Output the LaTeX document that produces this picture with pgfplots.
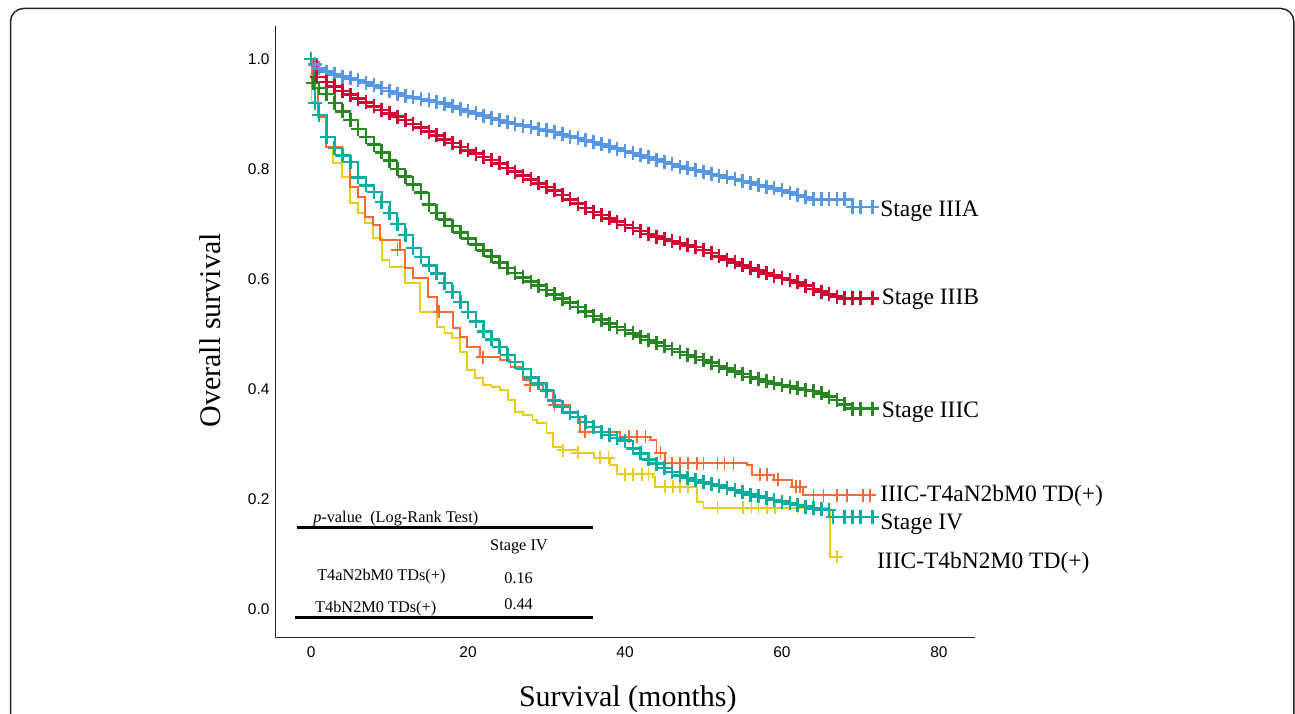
\documentclass[border=0pt]{standalone}
\usepackage{fontspec}
\setmainfont{Liberation Serif}
\newfontfamily\arialfont{Liberation Sans}
\usepackage{pgfplots}
\pgfplotsset{compat=1.18}

\definecolor{cIIIA}{RGB}{88,150,230}
\definecolor{cIIIB}{RGB}{212,0,50}
\definecolor{cIIIC}{RGB}{40,135,35}
\definecolor{cIV}{RGB}{0,175,160}
\definecolor{cT4a}{RGB}{250,105,50}
\definecolor{cT4b}{RGB}{230,205,20}

\begin{document}
\begin{tikzpicture}
\path[use as bounding box] (0pt,0pt) rectangle (1295pt,-714pt);
\draw[line width=1.5pt, black!85, rounded corners=13pt] (10.5pt,-8.5pt) rectangle (1293.8pt,-800pt);
\begin{axis}[
    at={(275pt,-637pt)}, anchor=south west,
    scale only axis, width=700pt, height=611pt,
    xmin=-4.6, xmax=84.6, ymin=-0.051, ymax=1.06,
    axis x line=bottom, axis y line=left,
    axis line style={-, line width=1pt, black!85},
    major tick length=0pt,
    xtick={0,20,40,60,80},
    ytick={0,0.2,0.4,0.6,0.8,1.0},
    yticklabel style={/pgf/number format/fixed, /pgf/number format/fixed zerofill,
        /pgf/number format/precision=1, xshift=-2pt},
    xticklabel style={yshift=-6pt},
    ticklabel style={font=\arialfont\fontsize{15.5}{18}\selectfont},
    /pgf/number format/assume math mode=true,
    xlabel={Survival (months)},
    ylabel={Overall survival},
    label style={font=\fontsize{30}{36}\selectfont},
    xlabel style={at={(axis description cs:0.504,-0.113)}, anchor=base},
    ylabel style={at={(axis description cs:-0.093,0.502)}, anchor=center},
    clip=false,
    every axis plot/.append style={const plot, line width=2pt},
    km/.style={mark=+, mark size=7pt, mark options={line width=2.6pt, solid}},
]

% Stage IIIA
\addplot[cIIIA, km] coordinates {
(0,1.0)(0.5,0.99)(1,0.983)(2,0.977)(3,0.972)(4,0.968)(5,0.965)(6,0.962)(7,0.957)(8,0.952)
(9,0.947)(10,0.942)(11,0.937)(12,0.933)(13,0.930)(14,0.927)(15,0.925)(16,0.922)(17,0.919)
(18,0.914)(19,0.909)(20,0.905)(21,0.901)(22,0.897)(23,0.893)(24,0.889)(25,0.885)(26,0.882)
(27,0.879)(28,0.876)(29,0.873)(30,0.870)(31,0.867)(32,0.863)(33,0.859)(34,0.856)(35,0.852)
(36,0.849)(37,0.845)(38,0.841)(39,0.837)(40,0.833)(41,0.829)(42,0.825)(43,0.821)(44,0.817)
(45,0.813)(46,0.809)(47,0.804)(48,0.801)(49,0.798)(50,0.795)(51,0.791)(52,0.788)(53,0.785)
(54,0.782)(55,0.778)(56,0.775)(57,0.771)(58,0.768)(59,0.765)(60,0.761)(61,0.757)(62,0.753)
(63,0.749)(64,0.745)(65,0.745)(66,0.745)(67,0.745)(68,0.745)(69,0.731)(70,0.731)(71.5,0.731)};

% Stage IIIB
\addplot[cIIIB, km] coordinates {
(0,1.0)(0.7,0.967)(2,0.958)(3,0.950)(4,0.942)(5,0.935)(6,0.928)(7,0.921)(8,0.914)(9,0.907)
(10,0.901)(11,0.895)(12,0.889)(13,0.882)(14,0.875)(15,0.868)(16,0.861)(17,0.854)(18,0.847)
(19,0.840)(20,0.834)(21,0.828)(22,0.822)(23,0.816)(24,0.810)(25,0.802)(26,0.795)(27,0.788)
(28,0.781)(29,0.774)(30,0.767)(31,0.761)(32,0.753)(33,0.745)(34,0.737)(35,0.729)(36,0.722)
(37,0.716)(38,0.710)(39,0.704)(40,0.698)(41,0.693)(42,0.687)(43,0.682)(44,0.677)(45,0.673)
(46,0.669)(47,0.665)(48,0.661)(49,0.658)(50,0.653)(51,0.647)(52,0.641)(53,0.635)(54,0.630)
(55,0.625)(56,0.620)(57,0.615)(58,0.610)(59,0.606)(60,0.602)(61,0.598)(62,0.594)(63,0.588)
(64,0.582)(65,0.577)(66,0.572)(67,0.568)(68,0.565)(69,0.565)(70,0.565)(71.5,0.565)};

% Stage IIIC
\addplot[cIIIC, km] coordinates {
(0,1.0)(0.3,0.956)(1,0.947)(2,0.936)(3,0.920)(4,0.905)(5,0.889)(6,0.873)(7,0.858)(8,0.844)
(9,0.830)(10,0.815)(11,0.800)(12,0.786)(13,0.772)(14,0.757)(15,0.735)(16,0.720)(17,0.708)
(18,0.696)(19,0.685)(20,0.674)(21,0.663)(22,0.652)(23,0.641)(24,0.630)(25,0.620)(26,0.611)
(27,0.603)(28,0.595)(29,0.588)(30,0.580)(31,0.572)(32,0.564)(33,0.557)(34,0.549)(35,0.541)
(36,0.533)(37,0.526)(38,0.519)(39,0.513)(40,0.507)(41,0.501)(42,0.495)(43,0.489)(44,0.484)
(45,0.478)(46,0.473)(47,0.467)(48,0.462)(49,0.458)(50,0.453)(51,0.448)(52,0.442)(53,0.437)
(54,0.432)(55,0.427)(56,0.422)(57,0.418)(58,0.414)(59,0.410)(60,0.407)(61,0.404)(62,0.401)
(63,0.398)(64,0.396)(65,0.392)(66,0.386)(67,0.380)(68,0.372)(69,0.364)(70,0.364)(71.5,0.364)};

% IIIC-T4bN2M0 TD(+)
\addplot[cT4b, line width=1.8pt] coordinates {
(0,1.0)(0.05,0.922)(0.9,0.898)(1.9,0.84)(2.8,0.811)(3.9,0.785)(5,0.738)(6,0.72)(6.9,0.702)
(7.9,0.675)(9,0.635)(10,0.622)(12,0.593)(13.9,0.54)(16,0.513)(17,0.502)(18,0.493)(19,0.467)
(19.9,0.435)(20.9,0.42)(21.9,0.407)(23,0.404)(24.1,0.398)(25.1,0.38)(26,0.358)(27,0.353)
(28.2,0.344)(28.8,0.338)(30,0.32)(30.8,0.295)(32.1,0.289)(34,0.284)(36,0.275)(38.1,0.262)
(39,0.245)(43.6,0.24)(43.8,0.222)(49.2,0.195)(50,0.184)(66.1,0.095)(67.2,0.095)};
\addplot[cT4b, only marks, mark=+, mark size=6.5pt, mark options={line width=1.6pt}] coordinates {
(32.1,0.289)(34,0.284)(36.8,0.275)(37.9,0.275)(40,0.245)(41,0.245)(42.2,0.245)(43,0.245)
(45.1,0.222)(46.1,0.222)(47,0.222)(48,0.222)(51.8,0.184)(55,0.184)(56.1,0.184)(57,0.184)
(58.1,0.184)(59.1,0.184)(62,0.184)(67,0.095)};

% IIIC-T4aN2bM0 TD(+)
\addplot[cT4a, line width=1.8pt] coordinates {
(0,1.0)(0.1,0.947)(0.9,0.895)(1.9,0.84)(3.9,0.825)(5,0.767)(6,0.749)(6.9,0.713)(7.9,0.698)
(8.8,0.671)(11.3,0.653)(12,0.62)(13,0.602)(14.9,0.567)(16,0.54)(18.1,0.511)(19,0.495)
(19.9,0.476)(21.5,0.458)(24.1,0.453)(25.4,0.44)(27,0.416)(28,0.407)(29.5,0.398)(30.8,0.371)
(33,0.349)(34.3,0.322)(39.4,0.313)(43.2,0.307)(44,0.284)(45.1,0.265)(55.5,0.262)(56.2,0.244)
(59,0.235)(61.3,0.222)(62.7,0.207)(71.6,0.207)};
\addplot[cT4a, only marks, mark=+, mark size=6.5pt, mark options={line width=1.6pt}] coordinates {
(11,0.653)(16.3,0.54)(21.9,0.458)(27.9,0.407)(31,0.371)(34.9,0.322)(40.5,0.313)(41.5,0.313)
(42.6,0.313)(44.5,0.284)(46,0.265)(47,0.265)(48,0.265)(49.2,0.265)(50,0.265)(51.8,0.265)
(52.7,0.265)(53.8,0.265)(57.2,0.244)(58.1,0.244)(59.5,0.235)(61.8,0.222)(62.3,0.222)
(64,0.207)(65.3,0.207)(67,0.207)(68.3,0.207)(70.3,0.207)(71.2,0.207)};

% Stage IV
\addplot[cIV, km] coordinates {
(0,1.0)(0.5,0.92)(1,0.898)(2,0.858)(3,0.838)(4,0.825)(5,0.813)(6,0.785)(7,0.770)(8,0.758)
(9,0.740)(10,0.720)(11,0.700)(12,0.680)(13,0.656)(14,0.640)(15,0.625)(16,0.610)(17,0.593)
(18,0.576)(19,0.558)(20,0.540)(21,0.523)(22,0.505)(23,0.490)(24,0.476)(25,0.462)(26,0.449)
(27,0.436)(28,0.421)(29,0.410)(30,0.397)(31,0.379)(32,0.367)(33,0.357)(34,0.349)(35,0.340)
(36,0.331)(37,0.322)(38,0.316)(39,0.311)(40,0.306)(41,0.292)(42,0.283)(43,0.272)(44,0.264)
(45,0.256)(46,0.249)(47,0.243)(48,0.238)(49,0.234)(50,0.230)(51,0.227)(52,0.224)(53,0.220)
(54,0.216)(55,0.212)(56,0.208)(57,0.205)(58,0.202)(59,0.198)(60,0.195)(61,0.192)(62,0.189)
(63,0.186)(64,0.183)(65,0.181)(66,0.180)(66.5,0.167)(68,0.167)(69,0.167)(70,0.167)(71.5,0.167)};

% curve labels
\begin{scope}[every node/.style={anchor=base west, inner sep=0pt, font=\fontsize{23.5}{28}\selectfont}]
\node at (axis cs:72.5,0.713) {Stage IIIA};
\node at (axis cs:72.7,0.5545) {Stage IIIB};
\node at (axis cs:72.7,0.349) {Stage IIIC};
\node at (axis cs:72.5,0.196) {IIIC-T4aN2bM0 TD(+)};
\node at (axis cs:72.5,0.144) {Stage IV};
\node at (axis cs:72.1,0.073) {IIIC-T4bN2M0 TD(+)};
\end{scope}

% p-value table
\draw[line width=3pt] (axis cs:-1.8,0.149) -- (axis cs:35.9,0.149);
\draw[line width=3pt] (axis cs:-2.0,-0.0155) -- (axis cs:35.9,-0.0155);
\begin{scope}[every node/.style={anchor=base west, inner sep=0pt, font=\fontsize{16.3}{19}\selectfont}]
\node at (axis cs:0.25,0.158) {\textit{p}-value\ \ (Log-Rank Test)};
\node at (axis cs:22.8,0.107) {Stage IV};
\node at (axis cs:0.76,0.052) {T4aN2bM0 TDs(+)};
\node at (axis cs:24.6,0.047) {0.16};
\node at (axis cs:0.5,-0.007) {T4bN2M0 TDs(+)};
\node at (axis cs:24.6,-0.001) {0.44};
\end{scope}
\end{axis}
\end{tikzpicture}
\end{document}
